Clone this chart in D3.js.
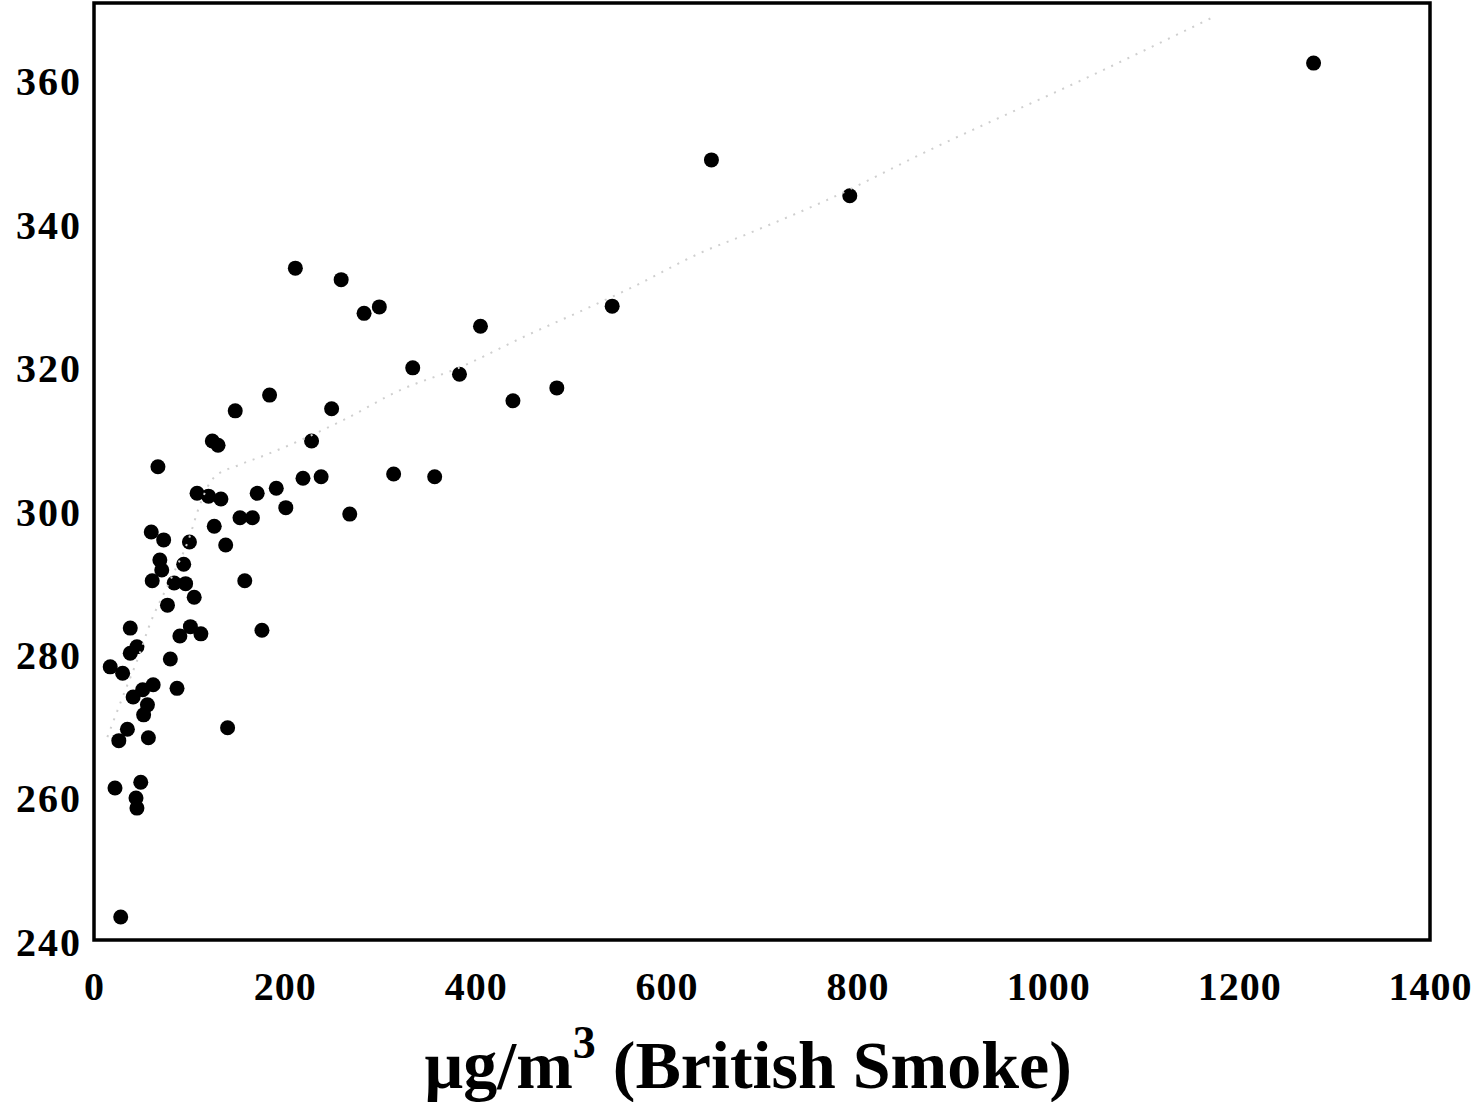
<!DOCTYPE html>
<html>
<head>
<meta charset="utf-8">
<script src="https://cdn.jsdelivr.net/npm/d3@7"></script>
<style>
  html, body { margin: 0; padding: 0; background: #fff; }
  svg { display: block; }
  text { font-family: "Liberation Serif", "Times New Roman", serif; font-weight: bold; fill: #000; }
</style>
</head>
<body>
<svg id="chart" width="1480" height="1102"></svg>
<script>
// British Smoke concentration (µg/m³) for each observation
const smoke = [
  1278, 647, 792, 211, 259, 283, 299, 543, 405, 334,
  383, 485, 184, 439, 148, 249, 124, 130, 228, 67,
  314, 357, 219, 238, 191, 171, 108, 120, 133, 201,
  268, 153, 166, 126, 60, 73, 138, 100, 69, 94,
  71, 61, 84, 96, 158, 105, 77, 38, 101, 90,
  112, 45, 38, 17, 30, 80, 87, 62, 51, 41,
  56, 52, 35, 26, 57, 140, 176, 22, 49, 44,
  45, 28
];
// Response value paired with each smoke reading
const response = [
  362.3, 348.8, 343.8, 333.7, 332.1, 327.4, 328.3, 328.4, 325.6, 319.8,
  318.9, 317.0, 316.0, 315.2, 313.8, 314.1, 309.6, 309.0, 309.6, 306.0,
  305.0, 304.6, 304.4, 304.6, 303.0, 302.3, 302.3, 301.9, 301.5, 300.3,
  299.4, 298.9, 298.9, 297.7, 296.9, 295.8, 295.1, 295.5, 293.0, 292.4,
  291.6, 290.1, 289.8, 289.7, 290.1, 287.8, 286.7, 283.5, 283.7, 282.4,
  282.7, 280.9, 280.0, 278.1, 277.2, 279.2, 275.1, 275.6, 274.9, 273.9,
  272.8, 271.4, 269.4, 267.8, 268.2, 269.6, 283.2, 261.2, 262.0, 259.8,
  258.4, 243.2
];

// Smoothed trend through the scatter
const trendX = [14, 22, 30, 48, 57, 80, 99, 111, 125, 151, 177, 261, 321, 384,
                450, 520, 565, 635, 687, 768, 876, 1057, 1171];
const trendY = [268.3, 271.1, 273.9, 280.0, 283.5, 290.2, 295.8, 300.7, 304.4, 306.2,
                307.5, 312.5, 316.7, 319.9, 324.1, 328.3, 331.1, 335.8, 338.6, 343.2,
                350.2, 361.3, 368.6];

const xTicks = [0, 200, 400, 600, 800, 1000, 1200, 1400];
const yTicks = [240, 260, 280, 300, 320, 340, 360];

const xLabelParts = { unit: "µg/m", power: "3", name: " (British Smoke)" };

const plotLeft = 94, plotRight = 1430, plotTop = 3, plotBottom = 940;

const svg = d3.select("#chart");

const x = d3.scaleLinear().domain([0, 1400]).range([plotLeft, plotRight]);
const y = d3.scaleLinear().domain([240, 240 + (plotBottom - plotTop) / 7.17]).range([plotBottom, plotTop]);

// scatter points
svg.append("g")
  .selectAll("circle")
  .data(smoke.map((v, i) => [v, response[i]]))
  .join("circle")
  .attr("cx", d => x(d[0]))
  .attr("cy", d => y(d[1]))
  .attr("r", 7.5)
  .attr("fill", "#000");

// trend line (drawn faint and dotted)
const trend = trendX.map((v, i) => [v, trendY[i]]);
const line = d3.line().x(d => x(d[0])).y(d => y(d[1])).curve(d3.curveMonotoneX);

svg.append("path")
  .datum(trend)
  .attr("d", line)
  .attr("fill", "none")
  .attr("stroke", "#cfcfcf")
  .attr("stroke-width", 2)
  .attr("stroke-dasharray", "2,7");

// frame
svg.append("rect")
  .attr("x", plotLeft).attr("y", plotTop)
  .attr("width", plotRight - plotLeft).attr("height", plotBottom - plotTop)
  .attr("fill", "none")
  .attr("stroke", "#000")
  .attr("stroke-width", 3.5);

// y axis
const yAxis = svg.append("g")
  .attr("transform", `translate(${plotLeft},0)`)
  .call(d3.axisLeft(y).tickValues(yTicks).tickSize(0).tickPadding(12).tickFormat(d3.format("d")));
yAxis.select(".domain").remove();
yAxis.selectAll("text")
  .attr("dy", "0.38em")
  .style("font-family", "'Liberation Serif', serif")
  .style("font-weight", "bold")
  .style("font-size", "40px")
  .style("letter-spacing", "2px");

// x axis
const xAxis = svg.append("g")
  .attr("transform", `translate(0,${plotBottom})`)
  .call(d3.axisBottom(x).tickValues(xTicks).tickSize(0).tickPadding(32).tickFormat(d3.format("d")));
xAxis.select(".domain").remove();
xAxis.selectAll("text")
  .style("font-family", "'Liberation Serif', serif")
  .style("font-weight", "bold")
  .style("font-size", "40px")
  .style("letter-spacing", "1px");

// x axis title
const title = svg.append("text")
  .attr("x", 748)
  .attr("y", 1088)
  .attr("text-anchor", "middle")
  .style("font-size", "68px");
title.append("tspan").text(xLabelParts.unit);
title.append("tspan").attr("dy", -30).style("font-size", "46px").text(xLabelParts.power);
title.append("tspan").attr("dy", 30).text(xLabelParts.name);
</script>
</body>
</html>
